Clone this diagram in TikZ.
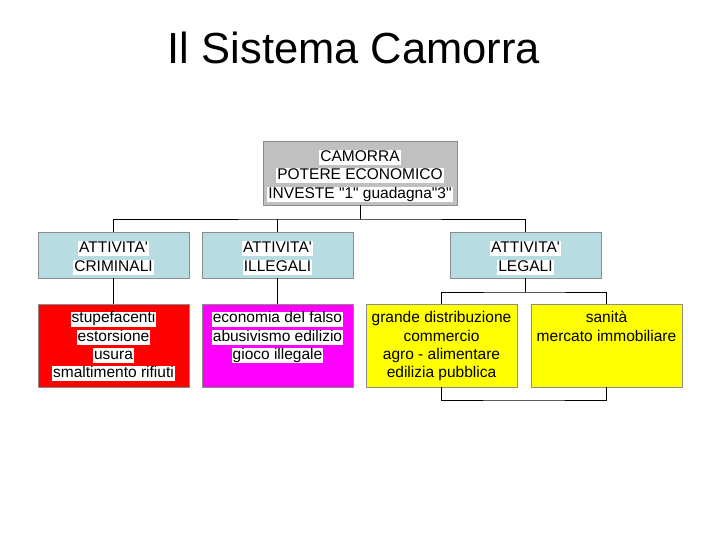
\documentclass[tikz,border=0pt]{standalone}
\usepackage{fontspec}
\setmainfont{Liberation Sans}[Ligatures=TeXOff]
\definecolor{boxgray}{HTML}{C0C0C0}
\definecolor{boxblue}{HTML}{B7DDE3}
\definecolor{edgegray}{HTML}{8C8C8C}
\definecolor{boxred}{HTML}{FF0000}
\definecolor{boxmag}{HTML}{FF00FF}
\definecolor{boxyel}{HTML}{FFFF00}
\newcommand\wl[1]{{\setlength{\fboxsep}{0pt}\colorbox{white}{\rule[-3.6bp]{0pt}{15bp}\hspace{1bp}#1\hspace{1bp}}}}
\newcommand\yl[1]{\rule[-3.6bp]{0pt}{15bp}#1}
\begin{document}
\begin{tikzpicture}[x=1bp,y=-1bp,
  every node/.style={inner sep=0pt,outer sep=0pt,font=\fontsize{15.5bp}{18.3bp}\selectfont},
  boxbase/.style={draw=edgegray,line width=0.9bp,rectangle},
  topbox/.style={boxbase,fill=boxgray,minimum width=194bp,minimum height=64bp},
  bluebox/.style={boxbase,fill=boxblue,minimum width=151bp,minimum height=46bp},
  lowbox/.style={boxbase,minimum width=151bp,minimum height=83bp},
  midtext/.style={align=center},
  lowtext/.style={anchor=north,align=center},
  conn/.style={draw=black,line width=0.9bp}]
\useasboundingbox (0,0) rectangle (720,540);
\node[anchor=base,font=\fontsize{43.5bp}{50bp}\selectfont] (title) at (354,64) {Il Sistema Camorra};
% top
\node[topbox] (top) at (360,173) {};
\node[midtext] (topt) at ([yshift=-3bp]top.center) {\wl{CAMORRA}\\\wl{POTERE ECONOMICO}\\\wl{INVESTE "1" guadagna"3"}};
% blue
\node[bluebox] (crim) at (113.5,255) {};
\node[bluebox] (ill) at (277.5,255) {};
\node[bluebox] (leg) at (525.5,255) {};
\node[midtext] (crimt) at ([yshift=-3bp]crim.center) {\wl{ATTIVITA'}\\\wl{CRIMINALI}};
\node[midtext] (illt) at ([yshift=-3bp]ill.center) {\wl{ATTIVITA'}\\\wl{ILLEGALI}};
\node[midtext] (legt) at ([yshift=-3bp]leg.center) {\wl{ATTIVITA'}\\\wl{LEGALI}};
% lower boxes
\node[lowbox,fill=boxred] (red) at (113.5,345.5) {};
\node[lowbox,fill=boxmag] (mag) at (277.5,345.5) {};
\node[lowbox,fill=boxyel] (yl) at (441.5,345.5) {};
\node[lowbox,fill=boxyel] (yr) at (606.5,345.5) {};
\node[lowtext] (redt) at ([yshift=-7.5bp]red.north) {\wl{stupefacenti}\\\wl{estorsione}\\\wl{usura}\\\wl{smaltimento rifiuti}};
\node[lowtext] (magt) at ([yshift=-7.5bp]mag.north) {\wl{economia del falso}\\\wl{abusivismo edilizio}\\\wl{gioco illegale}};
\node[lowtext] (ylt) at ([yshift=-7.5bp]yl.north) {\yl{grande distribuzione}\\\yl{commercio}\\\yl{agro - alimentare}\\\yl{edilizia pubblica}};
\node[lowtext] (yrt) at ([yshift=-7.5bp]yr.north) {\yl{sanità}\\\yl{mercato immobiliare}};
% connectors
\coordinate (j1) at (360,219);
\coordinate (j2) at (525.5,292);
\coordinate (j3) at (524,400);
\draw[conn] (top.south) -- (j1);
\draw[conn] (crim.north) |- (j1) -| (leg.north);
\draw[conn] (ill.north) -- (ill.north |- j1);
\draw[conn] (crim.south) -- (red.north);
\draw[conn] (ill.south) -- (mag.north);
\draw[conn] (leg.south) -- (j2);
\draw[conn] (yl.north) |- (j2) -| (yr.north);
\draw[conn] (yl.south) |- (j3) -| (yr.south);
\end{tikzpicture}
\end{document}
